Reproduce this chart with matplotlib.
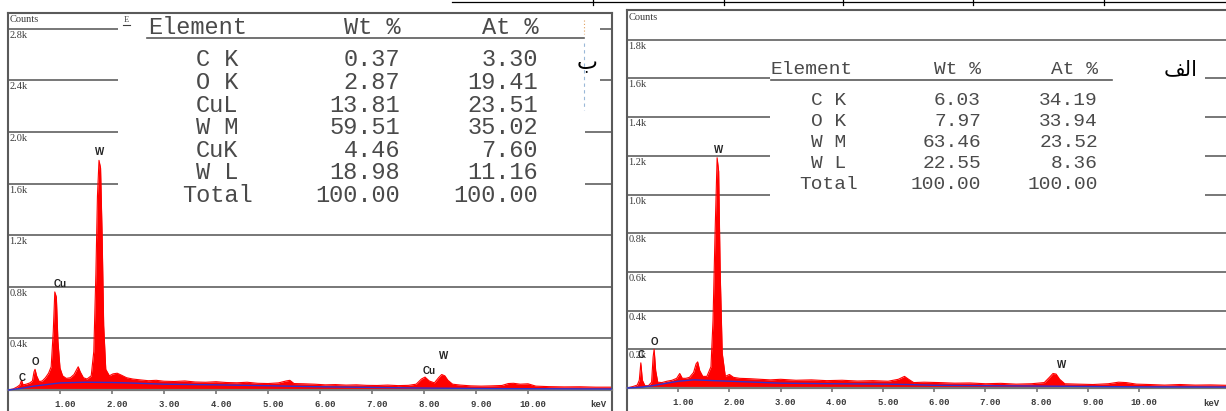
import matplotlib
matplotlib.use("Agg")
import matplotlib.pyplot as plt
from matplotlib.transforms import ScaledTranslation

# %% data -- EDS spectra (counts vs keV)
left_energy = [0.00, 0.10, 0.18, 0.23, 0.26, 0.29, 0.35, 0.42, 0.47, 0.50, 0.52, 0.55, 0.60, 0.66,
               0.72, 0.78, 0.83, 0.87, 0.90, 0.93, 0.96, 1.00, 1.05, 1.12, 1.20, 1.27, 1.31, 1.35,
               1.39, 1.45, 1.52, 1.60, 1.65, 1.69, 1.72, 1.75, 1.78, 1.81, 1.84, 1.88, 1.95, 2.02,
               2.10, 2.18, 2.28, 2.40, 2.55, 2.70, 2.85, 3.00, 3.20, 3.40, 3.60, 3.80, 4.00, 4.20,
               4.40, 4.60, 4.80, 5.00, 5.20, 5.35, 5.42, 5.50, 5.70, 5.90, 6.10, 6.30, 6.50, 6.70,
               6.90, 7.10, 7.30, 7.50, 7.70, 7.85, 7.95, 8.02, 8.10, 8.20, 8.28, 8.34, 8.40, 8.46,
               8.55, 8.70, 8.90, 9.10, 9.30, 9.50, 9.62, 9.72, 9.85, 10.00, 10.15, 10.40, 10.70,
               11.00, 11.30, 11.62]
left_counts = [0, 8, 25, 40, 75, 40, 45, 55, 70, 140, 160, 110, 65, 70,
               95, 130, 180, 450, 760, 720, 380, 170, 110, 90, 95, 120, 150, 180,
               140, 95, 85, 110, 300, 900, 1500, 1780, 1720, 1200, 500, 160, 110, 125,
               130, 115, 95, 85, 78, 72, 75, 68, 66, 70, 62, 60, 64, 58,
               56, 60, 52, 50, 55, 70, 75, 50, 48, 45, 40, 42, 38, 40,
               36, 35, 38, 34, 36, 45, 85, 100, 70, 55, 95, 120, 110, 75,
               45, 38, 32, 30, 32, 35, 50, 52, 45, 48, 30, 26, 24,
               25, 22, 22]
left_bg_energy = [0.0, 0.2, 0.5, 1.0, 1.5, 2.0, 2.3, 3.0, 4.0, 5.0, 6.0, 7.0, 8.0, 9.0, 10.0, 11.62]
left_bg_counts = [0, 10, 30, 55, 60, 58, 55, 45, 40, 33, 25, 20, 15, 12, 10, 8]

right_energy = [0.00, 0.12, 0.20, 0.24, 0.27, 0.30, 0.35, 0.42, 0.48, 0.51, 0.53, 0.56, 0.60, 0.68,
                0.78, 0.88, 0.97, 1.03, 1.08, 1.15, 1.22, 1.30, 1.35, 1.38, 1.42, 1.48, 1.56, 1.64,
                1.68, 1.72, 1.76, 1.79, 1.82, 1.86, 1.92, 2.00, 2.08, 2.20, 2.40, 2.60, 2.80, 3.00,
                3.30, 3.60, 3.90, 4.20, 4.50, 4.80, 5.10, 5.30, 5.42, 5.50, 5.60, 5.80, 6.10, 6.40,
                6.70, 7.00, 7.30, 7.60, 7.90, 8.15, 8.25, 8.32, 8.38, 8.45, 8.55, 8.80, 9.10, 9.40,
                9.60, 9.75, 9.95, 10.20, 10.50, 10.80, 11.10, 11.40, 11.70]
right_counts = [0, 8, 15, 40, 130, 40, 12, 12, 30, 160, 200, 90, 30, 28,
                35, 40, 50, 75, 50, 50, 55, 80, 125, 135, 90, 60, 60, 110,
                350, 800, 1190, 1120, 600, 180, 60, 70, 55, 50, 48, 45, 42, 45,
                40, 42, 38, 40, 36, 38, 35, 45, 60, 45, 28, 30, 28, 25,
                26, 22, 24, 20, 22, 28, 55, 75, 72, 45, 22, 20, 18, 22,
                30, 28, 20, 18, 15, 18, 15, 16, 14]
right_bg_energy = [0.0, 0.3, 0.5, 1.0, 1.3, 1.7, 2.0, 3.0, 4.0, 5.0, 5.5, 6.0, 7.0, 8.0, 9.0, 10.0, 11.7]
right_bg_counts = [0, 5, 12, 35, 42, 38, 35, 25, 22, 20, 18, 14, 12, 10, 8, 6, 5]

# peak markers: symbol, energy (keV), height of the label (counts)
left_peaks = ["C", "O", "Cu", "W", "Cu", "W"]
left_peak_energy = [0.27, 0.52, 1.00, 1.77, 8.10, 8.37]
left_peak_height = [93, 217, 822, 1845, 147, 264]
right_peaks = ["C", "O", "W", "W"]
right_peak_energy = [0.27, 0.53, 1.78, 8.48]
right_peak_height = [171, 238, 1230, 119]

# quantification tables
left_elements = ["C K", "O K", "CuL", "W M", "CuK", "W L", "Total"]
left_wt = [0.37, 2.87, 13.81, 59.51, 4.46, 18.98, 100.00]
left_at = [3.30, 19.41, 23.51, 35.02, 7.60, 11.16, 100.00]
right_elements = ["C K", "O K", "W M", "W L", "Total"]
right_wt = [6.03, 7.97, 63.46, 22.55, 100.00]
right_at = [34.19, 33.94, 23.52, 8.36, 100.00]

x_ticks = [1, 2, 3, 4, 5, 6, 7, 8, 9, 10]
x_tick_labels = ["1.00", "2.00", "3.00", "4.00", "5.00", "6.00", "7.00", "8.00", "9.00", "10.00"]
left_levels = [400, 800, 1200, 1600, 2000, 2400, 2800]
left_level_labels = ["0.4k", "0.8k", "1.2k", "1.6k", "2.0k", "2.4k", "2.8k"]
right_levels = [200, 400, 600, 800, 1000, 1200, 1400, 1600, 1800]
right_level_labels = ["0.2k", "0.4k", "0.6k", "0.8k", "1.0k", "1.2k", "1.4k", "1.6k", "1.8k"]

# %% figure, laid out in pixels of the 1226x411 page
W, H = 1226, 411
fig = plt.figure(figsize=(W / 100, H / 100), dpi=100)
FRAME = "#5a5a5a"
GRID = "#777777"
TXT = "#3c3c3c"


def add_panel(x0, x1, y_top, y_zero, px_per_kev, cnt_per_px):
    ax = fig.add_axes([x0 / W, 0, (x1 - x0) / W, 1 - y_top / H])
    ax.set_xlim(0, (x1 - x0) / px_per_kev)
    ax.set_ylim(-(H - y_zero) * cnt_per_px, (y_zero - y_top) * cnt_per_px)
    ax.set_facecolor("white")
    for s in ax.spines.values():
        s.set_color(FRAME)
        s.set_linewidth(1.5)
    ax.spines["bottom"].set_position(("data", 0))
    ax.spines["bottom"].set_color(GRID)
    ax.spines["bottom"].set_linewidth(1.6)
    ax.set_yticks([])
    ax.set_xticks(x_ticks)
    ax.set_xticklabels(x_tick_labels, family="Liberation Mono", weight="bold",
                       color=TXT, fontsize=6.5)
    ax.tick_params(axis="x", direction="out", length=3, width=1.2, color=GRID, pad=4)
    shift = ScaledTranslation(5 / 100, 0, fig.dpi_scale_trans)
    for lab in ax.get_xticklabels():
        lab.set_transform(lab.get_transform() + shift)
    return ax


def draw_spectrum(ax, e, c, be, bc):
    ax.fill_between(e, 0, c, color="red", lw=0, zorder=2)
    ax.plot(e, c, color="red", lw=0.8, zorder=2)
    ax.plot(be, bc, color="#3030d0", lw=1.0, zorder=3)


def level_lines(ax, levels, labels, gaps, cnt_per_px):
    xmax = ax.get_xlim()[1]
    for lev, lab in zip(levels, labels):
        gap = gaps.get(lev)
        if gap is None:
            ax.hlines(lev, 0, xmax, color=GRID, lw=1.4, zorder=1)
        else:
            ax.hlines(lev, 0, gap[0], color=GRID, lw=1.4, zorder=1)
            ax.hlines(lev, gap[1], xmax, color=GRID, lw=1.4, zorder=1)
        ax.text(0.03, lev - 2 * cnt_per_px, lab, family="Liberation Serif", fontsize=7.5,
                color=TXT, va="top", ha="left")


def peak_labels(ax, names, energies, heights):
    for n, e, h in zip(names, energies, heights):
        ax.text(e, h, n, family="Liberation Sans", weight="bold", fontsize=7,
                ha="center", va="center", color="#222222", zorder=4)


# left panel (ب)
axl = add_panel(8, 612, 13, 390, 52.0, 7.75)
draw_spectrum(axl, left_energy, left_counts, left_bg_energy, left_bg_counts)
gl = {2800: (2.12, 11.38), 2400: (2.12, 11.38), 2000: (2.12, 11.10), 1600: (2.12, 11.10)}
level_lines(axl, left_levels, left_level_labels, gl, 7.75)
peak_labels(axl, left_peaks, left_peak_energy, left_peak_height)
axl.text(0.03, 2868, "Counts", family="Liberation Serif", fontsize=7.5, color=TXT,
         va="center", ha="left")
axl.text(11.35, -115, "keV", family="Liberation Mono", weight="bold", fontsize=6.5,
         color=TXT, ha="center", va="center")

# right panel (الف)
axr = add_panel(627, 1226, 10, 388, 51.2, 5.168)
axr.spines["right"].set_visible(False)
draw_spectrum(axr, right_energy, right_counts, right_bg_energy, right_bg_counts)
gr = {1600: (2.80, 11.28), 1400: (2.80, 11.28), 1200: (2.80, 11.28), 1000: (2.80, 11.28)}
level_lines(axr, right_levels, right_level_labels, gr, 5.168)
peak_labels(axr, right_peaks, right_peak_energy, right_peak_height)
axr.text(0.03, 1917, "Counts", family="Liberation Serif", fontsize=7.5, color=TXT,
         va="center", ha="left")
axr.text(11.42, -80, "keV", family="Liberation Mono", weight="bold", fontsize=6.5,
         color=TXT, ha="center", va="center")

# %% overlay in page pixels: tables, Arabic panel letters, page rules
ov = fig.add_axes([0, 0, 1, 1], zorder=10)
ov.set_xlim(0, W)
ov.set_ylim(H, 0)
ov.axis("off")
ov.patch.set_alpha(0)


def table(x_name, x_head, x_wt, x_at, y_head, y_line, y_rows, dy, fs, names, wt, at, line_x):
    kw = dict(family="Liberation Mono", fontsize=fs, color="#4a4a4a", va="center")
    ov.text(x_head, y_head, "Element", ha="left", **kw)
    ov.text(x_wt, y_head, "Wt %", ha="right", **kw)
    ov.text(x_at, y_head, "At %", ha="right", **kw)
    ov.plot(line_x, [y_line, y_line], color=FRAME, lw=1.2)
    for i, (n, w, a) in enumerate(zip(names, wt, at)):
        y = y_rows + i * dy
        ov.text(x_name, y, n, ha="center", **kw)
        ov.text(x_wt, y, f"{w:.2f}", ha="right", **kw)
        ov.text(x_at, y, f"{a:.2f}", ha="right", **kw)


table(217, 148, 400, 538, 28, 38, 60, 22.5, 17,
      left_elements, left_wt, left_at, [147, 584])
table(829, 771, 981, 1098, 70, 80, 100, 21, 14,
      right_elements, right_wt, right_at, [771, 1112])

ov.text(587, 63, "\u0628", family="DejaVu Sans", fontsize=16, ha="center", va="center",
        color="black")
ov.text(1181, 69, "\uFED2\uFEDF\u0627", family="DejaVu Sans", fontsize=15, ha="center",
        va="center", color="black")
ov.text(126, 20, "E", family="Liberation Serif", fontsize=6, color=TXT, ha="center", va="center")
ov.plot([123, 130], [25, 25], color=TXT, lw=0.8)
ov.plot([584, 584], [20, 34], color="#e0a060", lw=0.8, ls=(0, (1, 2)))
ov.plot([584, 584], [43, 110], color="#9ab8d8", lw=0.8, ls=(0, (3, 3)))

ov.plot([452, W], [2, 2], color="black", lw=0.9)
for xv in [593, 724, 843, 973, 1104]:
    ov.plot([xv, xv], [0, 5], color="black", lw=0.9)

fig.savefig("out.png", dpi=100)
